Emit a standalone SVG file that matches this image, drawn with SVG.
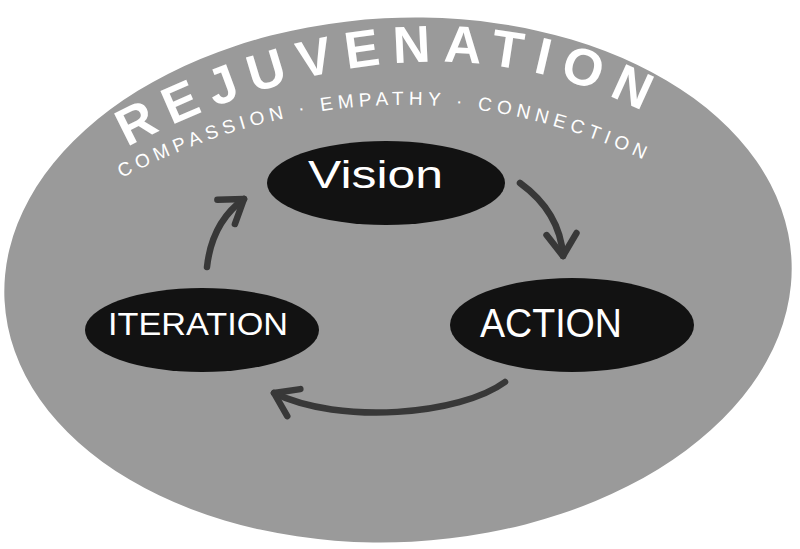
<svg xmlns="http://www.w3.org/2000/svg" width="800" height="549" viewBox="0 0 800 549">
  <style>
    .bg { fill: #9a9a9a; }
    .node { fill: #121212; }
    .label { fill: #ffffff; font-family: "Liberation Sans", Arial, sans-serif; }
    .title { fill: #ffffff; font-family: "Liberation Sans", Arial, sans-serif; font-weight: bold; font-size: 52px; }
    .subtitle { fill: #ffffff; font-family: "Liberation Sans", Arial, sans-serif; font-size: 19px; }
    .conn { fill: none; stroke: #383838; stroke-width: 6.5; stroke-linecap: round; }
  </style>
  <defs>
    <path id="titlePath" d="M 118 152 Q 416 -7.5 650 115" fill="none"/>
    <path id="subPath" d="M 118 180 Q 393.5 37.5 655 165" fill="none"/>
    <marker id="head" markerUnits="userSpaceOnUse" viewBox="-30 -20 40 40" markerWidth="40" markerHeight="40" refX="0" refY="0" orient="auto">
      <path d="M -22 -15 L 0 0 L -22 15" fill="none" stroke="#383838" stroke-width="6.5" stroke-linecap="round" stroke-linejoin="round"/>
    </marker>
  </defs>

  <rect x="0" y="0" width="800" height="549" fill="#ffffff"/>
  <ellipse class="bg" cx="398" cy="280" rx="394" ry="262" transform="rotate(-3 398 280)"/>

  <text class="title"><textPath href="#titlePath" startOffset="10" textLength="538" lengthAdjust="spacing">REJUVENATION</textPath></text>
  <text class="subtitle"><textPath href="#subPath" startOffset="4" textLength="542" lengthAdjust="spacing">COMPASSION · EMPATHY · CONNECTION</textPath></text>

  <g id="connectors">
    <path class="conn" d="M 520 183 Q 560 212 563 256" marker-end="url(#head)"/>
    <path class="conn" d="M 505 382 C 460 415 340 425 274 393" marker-end="url(#head)"/>
    <path class="conn" d="M 207 267 Q 212 222 244 199" marker-end="url(#head)"/>
  </g>

  <g id="node-vision">
    <ellipse class="node" cx="386" cy="183" rx="119" ry="42"/>
    <text class="label" x="308" y="188" font-size="38" textLength="135" lengthAdjust="spacingAndGlyphs">Vision</text>
  </g>
  <g id="node-action">
    <ellipse class="node" cx="572" cy="325" rx="122" ry="47"/>
    <text class="label" x="480" y="337" font-size="40" textLength="142" lengthAdjust="spacingAndGlyphs">ACTION</text>
  </g>
  <g id="node-iteration">
    <ellipse class="node" cx="202" cy="330" rx="117" ry="42"/>
    <text class="label" x="108" y="335" font-size="31" textLength="180" lengthAdjust="spacingAndGlyphs">ITERATION</text>
  </g>
</svg>
